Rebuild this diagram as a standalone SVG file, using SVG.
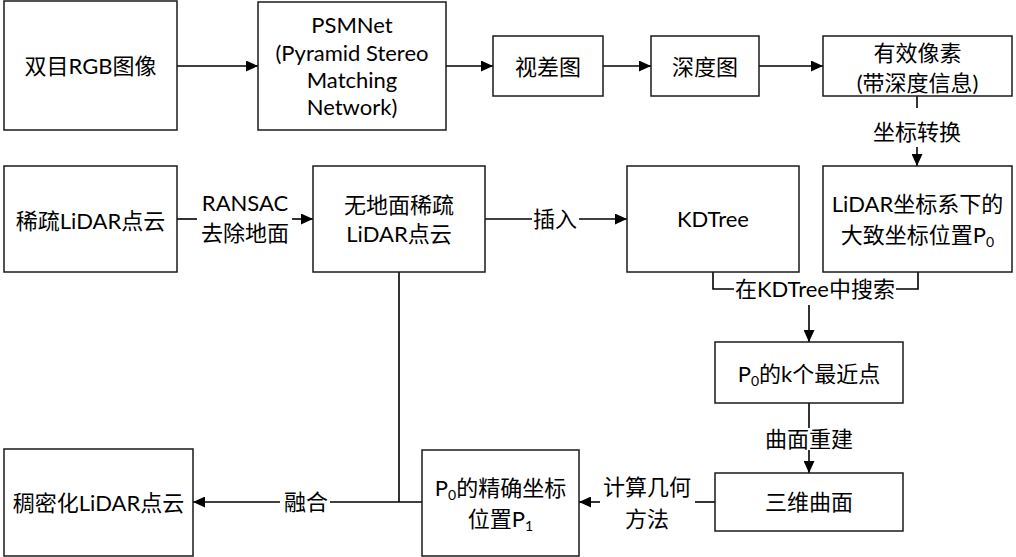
<svg xmlns="http://www.w3.org/2000/svg" width="1016" height="557" viewBox="0 0 1016 557">
<style>
.box{fill:#fff;stroke:#1a1a1a;stroke-width:1.5}
.ln{fill:none;stroke:#000;stroke-width:1.6}
.arr{marker-end:url(#ah)}
text{font-family:Lato,"Noto Sans CJK SC",sans-serif;font-size:22px;fill:#000;text-anchor:middle}
.sub{font-size:14px}
</style>
<defs>
<marker id="ah" viewBox="0 0 12 11" markerWidth="12" markerHeight="11" refX="12" refY="5.5" orient="auto" markerUnits="userSpaceOnUse">
<path d="M0,0 L12,5.5 L0,11 z" fill="#000"/>
</marker>
</defs>
<rect width="1016" height="557" fill="#fff"/>
<g id="connectors">
<path class="ln arr" d="M177,66 H258"/>
<path class="ln arr" d="M446,66 H493"/>
<path class="ln arr" d="M603,66 H651"/>
<path class="ln arr" d="M759,66 H823"/>
<path class="ln" d="M917,96 V108"/>
<path class="ln arr" d="M917,147 V166"/>
<text x="917" y="140">坐标转换</text>
<path class="ln" d="M177,219 H197"/>
<path class="ln arr" d="M292,219 H313"/>
<text x="245" y="211">RANSAC</text>
<text x="245" y="241">去除地面</text>
<path class="ln" d="M485,219 H532"/>
<path class="ln arr" d="M579,219 H627"/>
<text x="555" y="227">插入</text>
<path class="ln" d="M713,272 V289 H734"/>
<path class="ln" d="M896,289 H918 V272"/>
<text x="815" y="297">在KDTree中搜索</text>
<path class="ln arr" d="M809,305 V342"/>
<path class="ln" d="M809,403 V428"/>
<path class="ln arr" d="M809,450 V473"/>
<text x="809" y="447">曲面重建</text>
<path class="ln" d="M715,502 H695"/>
<path class="ln arr" d="M600,502 H579"/>
<text x="647" y="495">计算几何</text>
<text x="647" y="527">方法</text>
<path class="ln" d="M399,272 V502"/>
<path class="ln" d="M422,502 H330"/>
<path class="ln arr" d="M280,502 H193"/>
<text x="306" y="510">融合</text>
</g>
<g id="n1"><rect class="box" x="4" y="1" width="173" height="129"/><text x="90.5" y="74">双目RGB图像</text></g>
<g id="n2"><rect class="box" x="258" y="2" width="188" height="128"/>
<text x="352" y="33">PSMNet</text><text x="352" y="61">(Pyramid Stereo</text><text x="352" y="88">Matching</text><text x="352" y="115">Network)</text></g>
<g id="n3"><rect class="box" x="493" y="36" width="110" height="60"/><text x="548" y="75">视差图</text></g>
<g id="n4"><rect class="box" x="651" y="36" width="108" height="60"/><text x="705" y="75">深度图</text></g>
<g id="n5"><rect class="box" x="823" y="36" width="189" height="60"/><text x="917.5" y="61">有效像素</text><text x="917.5" y="91">(带深度信息)</text></g>
<g id="n6"><rect class="box" x="4" y="166" width="173" height="106"/><text x="90.5" y="229">稀疏LiDAR点云</text></g>
<g id="n7"><rect class="box" x="313" y="166" width="172" height="106"/><text x="399" y="213">无地面稀疏</text><text x="399" y="242">LiDAR点云</text></g>
<g id="n8"><rect class="box" x="627" y="166" width="172" height="106"/><text x="713" y="227">KDTree</text></g>
<g id="n9"><rect class="box" x="823" y="166" width="189" height="106"/><text x="917.5" y="212">LiDAR坐标系下的</text><text x="917.5" y="243">大致坐标位置P<tspan class="sub" dy="4">0</tspan></text></g>
<g id="n10"><rect class="box" x="715" y="342" width="188" height="61"/><text x="809" y="382">P<tspan class="sub" dy="4">0</tspan><tspan dy="-4">的k个最近点</tspan></text></g>
<g id="n11"><rect class="box" x="715" y="473" width="188" height="58"/><text x="809" y="510">三维曲面</text></g>
<g id="n12"><rect class="box" x="422" y="450" width="157" height="106"/><text x="500.5" y="496">P<tspan class="sub" dy="4">0</tspan><tspan dy="-4">的精确坐标</tspan></text><text x="500.5" y="527">位置P<tspan class="sub" dy="4">1</tspan></text></g>
<g id="n13"><rect class="box" x="4" y="449" width="189" height="107"/><text x="98.5" y="511">稠密化LiDAR点云</text></g>
</svg>
